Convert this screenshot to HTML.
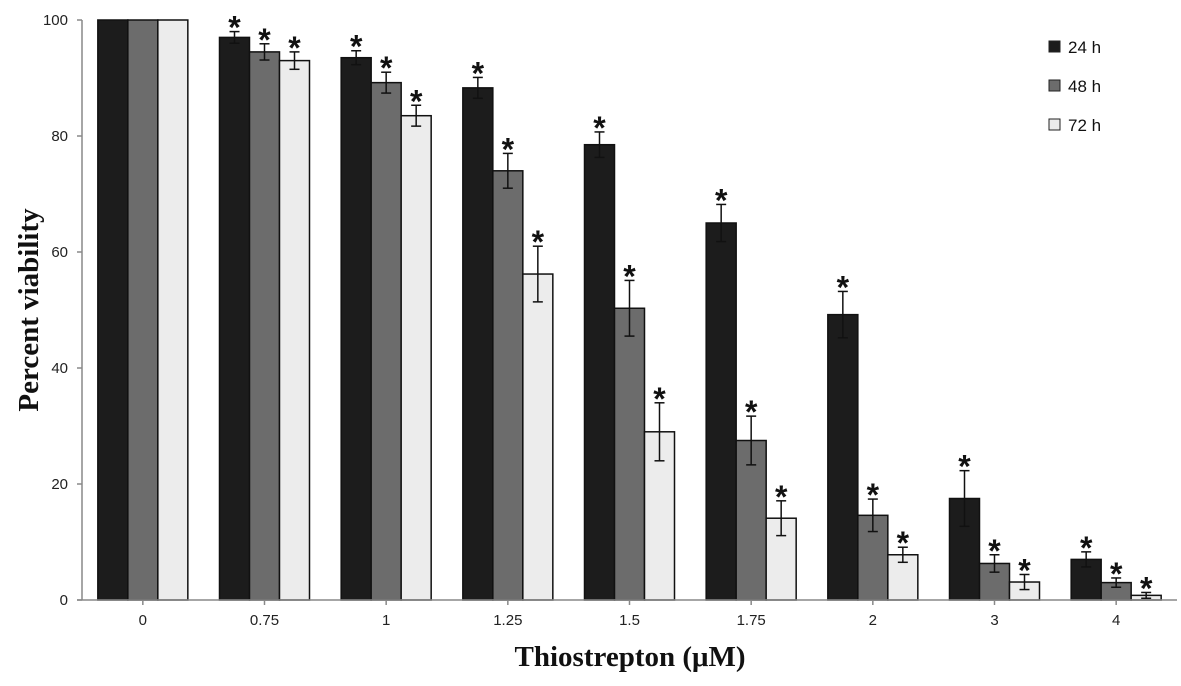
<!DOCTYPE html>
<html><head><meta charset="utf-8"><style>
body{margin:0;background:#fff}
svg{display:block;font-family:"Liberation Sans",sans-serif}
</style></head><body>
<svg id="c" width="1181" height="686"></svg>
<script>
const categories=["0","0.75","1","1.25","1.5","1.75","2","3","4"];
const v24=[100,97,93.5,88.3,78.5,65,49.2,17.5,7];
const v48=[100,94.5,89.2,74,50.3,27.5,14.6,6.3,3];
const v72=[100,93,83.5,56.2,29,14.1,7.8,3.1,0.8];
const e24=[0,1,1.2,1.8,2.2,3.2,4,4.8,1.3];
const e48=[0,1.4,1.8,3,4.8,4.2,2.8,1.5,0.8];
const e72=[0,1.5,1.8,4.8,5,3,1.3,1.3,0.5];
const yTicks=[0,20,40,60,80,100];
const seriesNames=["24 h","48 h","72 h"];
const NS="http://www.w3.org/2000/svg";
const svg=document.getElementById('c');
const x0=82,x1=1177,yB=600,yT=20;
const cw=(x1-x0)/categories.length;
const y=v=>yB-(v/100)*(yB-yT);
const cx=i=>x0+cw*(i+0.5);
function mk(t,a,p){const e=document.createElementNS(NS,t);for(const k in a)e.setAttribute(k,a[k]);(p||svg).appendChild(e);return e;}
const fills=["#1c1c1c","#6c6c6c","#ececec"];
const vals=[v24,v48,v72],errs=[e24,e48,e72];
const bw=30;
vals.forEach((vs,s)=>{vs.forEach((v,i)=>{
  const bx=cx(i)-45+s*bw;
  const r=mk('rect',{x:bx,y:y(v),width:bw,height:yB-y(v),fill:fills[s],stroke:"#111","stroke-width":1.5});
  
  
  const e=errs[s][i];
  if(e>0){
    const mx=bx+bw/2;
    const g=mk('g',{stroke:"#111","stroke-width":1.5});
    
    
    mk('line',{x1:mx,x2:mx,y1:y(v+e),y2:y(v-e)},g);
    mk('line',{x1:mx-5,x2:mx+5,y1:y(v+e),y2:y(v+e)},g);
    mk('line',{x1:mx-5,x2:mx+5,y1:y(v-e),y2:y(v-e)},g);
    const t=mk('text',{x:mx,y:y(v+e)+7,"text-anchor":"middle","font-size":32,"font-weight":"bold",fill:"#111"});
    t.textContent="*";
    
    
  }
});});
const ax=mk('g',{stroke:"#888","stroke-width":1.5});


mk('line',{x1:x0,x2:x0,y1:yT,y2:yB},ax);
mk('line',{x1:x0-5,x2:x1,y1:yB,y2:yB},ax);
yTicks.forEach(t=>{
  mk('line',{x1:x0-5,x2:x0,y1:y(t),y2:y(t)},ax);
  const l=mk('text',{x:x0-14,y:y(t)+5,"text-anchor":"end","font-size":15,fill:"#222"});
  l.textContent=t;
  
  
});
categories.forEach((c,i)=>{
  mk('line',{x1:cx(i),x2:cx(i),y1:yB,y2:yB+5},ax);
  const l=mk('text',{x:cx(i),y:yB+25,"text-anchor":"middle","font-size":15,fill:"#222"});
  l.textContent=c;
  
  
});
const yt=mk('text',{transform:"translate(38,310) rotate(-90)","text-anchor":"middle","font-size":29,"font-weight":"bold","font-family":"Liberation Serif,serif",fill:"#111"});
yt.textContent="Percent viability";


const xt=mk('text',{x:630,y:666,"text-anchor":"middle","font-size":29,"font-weight":"bold","font-family":"Liberation Serif,serif",fill:"#111"});
xt.textContent="Thiostrepton (μM)";


seriesNames.forEach((n,s)=>{
  const g=mk('g',{});
  
  
  const yy=47+s*39;
  mk('rect',{x:1049,y:yy-6,width:11,height:11,fill:fills[s],stroke:"#222","stroke-width":1},g);
  const t=mk('text',{x:1068,y:yy+6,"font-size":17,fill:"#111"},g);
  t.textContent=n;
});
</script>
</body></html>
